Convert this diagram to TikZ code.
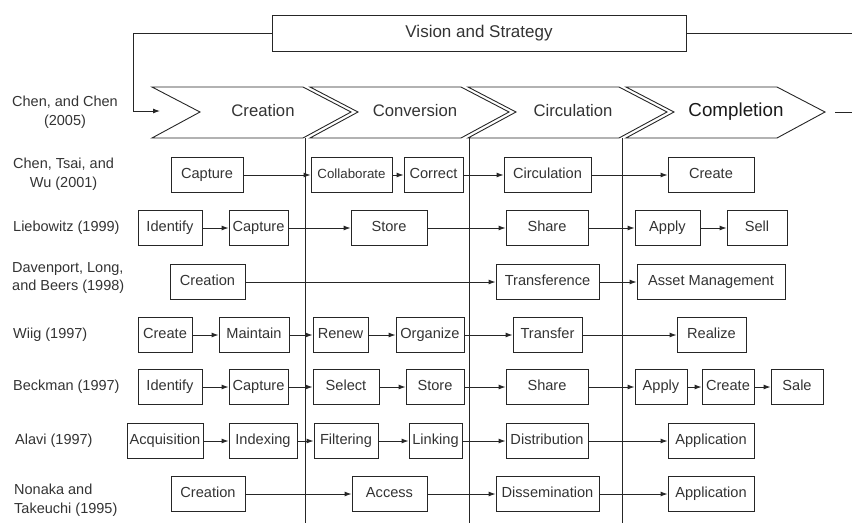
\documentclass[tikz,border=0pt]{standalone}
\usepackage{fontspec}
\setmainfont{Liberation Sans}
\usetikzlibrary{arrows.meta}

\tikzset{
  stage/.style={draw=black!85, line width=0.9pt, minimum height=35pt, inner sep=1pt, text height=10.5pt, text depth=3pt, text=black!80, font=\fontsize{14.6}{17}\selectfont},
  author/.style={anchor=west, inner sep=0pt, text=black!80, font=\fontsize{14.5}{18.5}\selectfont},
  phase/.style={text height=12pt, text depth=3.5pt, text=black!80, font=\fontsize{16.7}{20}\selectfont},
  rule/.style={draw=black!85, line width=0.9pt},
  flow/.style={rule, -{Latex[length=7pt,width=5pt]}},
}

\begin{document}
\begin{tikzpicture}[x=1pt,y=-1pt]
  \useasboundingbox (0,0) rectangle (852,523);

  % vision box and the loop into the chain
  \node[stage, minimum width=414pt, minimum height=36pt, text height=12pt, text depth=3.5pt, font=\fontsize{17}{20}\selectfont] (vision) at (479,33) {Vision and Strategy};
  \coordinate (entry) at (160,111);
  \coordinate (vout) at (852,33);
  \draw[flow] (vision.west) -| (133,111) -- (entry);
  \draw[rule] (vision.east) -- (vout);

  % the four phases
  \foreach \i in {0,...,3}
    \draw[rule] ({152+158*\i},87) -- ++(48,25) -- ++(-48,26) -- ++(151,0) -- ++(48,-26) -- ++(-48,-25) -- cycle;
  \node[phase] (creation) at (263,112) {Creation};
  \node[phase] (conversion) at (415,112) {Conversion};
  \node[phase] (circulation) at (573,112) {Circulation};
  \node[phase, text=black!90, text height=13.5pt, text depth=4pt, font=\fontsize{18.8}{22}\selectfont] (completion) at (736,112) {Completion};
  \coordinate (cout1) at (835,112);
  \coordinate (cout2) at (852,112);
  \draw[rule] (cout1) -- (cout2);

  % phase dividers
  \foreach \x in {305,469,622}
    \draw[rule] (\x,138) -- (\x,523);

  % authors
  \node[author, align=center] (chen) at (12,112) {Chen, and Chen\\(2005)};
  \node[author, align=center] (tsai) at (13,174) {Chen, Tsai, and\\Wu (2001)};
  \node[author] (lieb) at (13,228) {Liebowitz (1999)};
  \node[author, align=left] (dav) at (12,278) {Davenport, Long,\\and Beers (1998)};
  \node[author] (wiig) at (13,335) {Wiig (1997)};
  \node[author] (beck) at (13,387) {Beckman (1997)};
  \node[author] (alavi) at (15,441) {Alavi (1997)};
  \node[author, align=left] (nona) at (14,500) {Nonaka and\\Takeuchi (1995)};

  % Chen, Tsai, and Wu
  \node[stage, minimum width=72pt] (tsai1) at (207,175) {Capture};
  \node[stage, minimum width=81pt, font=\fontsize{13.3}{16}\selectfont] (tsai2) at (351.5,175) {Collaborate};
  \node[stage, minimum width=59pt] (tsai3) at (433.5,175) {Correct};
  \node[stage, minimum width=87pt] (tsai4) at (547.5,175) {Circulation};
  \node[stage, minimum width=86pt] (tsai5) at (711,175) {Create};

  % Liebowitz
  \node[stage, minimum width=64pt] (lieb1) at (170,228) {Identify};
  \node[stage, minimum width=59pt] (lieb2) at (258.5,228) {Capture};
  \node[stage, minimum width=76pt] (lieb3) at (389,228) {Store};
  \node[stage, minimum width=82pt] (lieb4) at (547,228) {Share};
  \node[stage, minimum width=65pt] (lieb5) at (667.5,228) {Apply};
  \node[stage, minimum width=60pt] (lieb6) at (757,228) {Sell};

  % Davenport, Long, and Beers
  \node[stage, minimum width=75pt] (dav1) at (207.5,282) {Creation};
  \node[stage, minimum width=103pt] (dav2) at (547.5,282) {Transference};
  \node[stage, minimum width=148pt] (dav3) at (711,282) {Asset Management};

  % Wiig
  \node[stage, minimum width=54pt] (wiig1) at (165,335) {Create};
  \node[stage, minimum width=70pt] (wiig2) at (254,335) {Maintain};
  \node[stage, minimum width=55pt] (wiig3) at (340.5,335) {Renew};
  \node[stage, minimum width=68pt] (wiig4) at (430,335) {Organize};
  \node[stage, minimum width=69pt] (wiig5) at (547.5,335) {Transfer};
  \node[stage, minimum width=69pt] (wiig6) at (711.5,335) {Realize};

  % Beckman
  \node[stage, minimum width=64pt] (beck1) at (170,387) {Identify};
  \node[stage, minimum width=59pt] (beck2) at (258.5,387) {Capture};
  \node[stage, minimum width=66pt] (beck3) at (346,387) {Select};
  \node[stage, minimum width=58pt] (beck4) at (435,387) {Store};
  \node[stage, minimum width=82pt] (beck5) at (547,387) {Share};
  \node[stage, minimum width=52pt] (beck6) at (661,387) {Apply};
  \node[stage, minimum width=52pt] (beck7) at (728,387) {Create};
  \node[stage, minimum width=52pt] (beck8) at (797,387) {Sale};

  % Alavi
  \node[stage, minimum width=76pt] (alavi1) at (165,441) {Acquisition};
  \node[stage, minimum width=68pt] (alavi2) at (263,441) {Indexing};
  \node[stage, minimum width=64pt] (alavi3) at (346,441) {Filtering};
  \node[stage, minimum width=53pt] (alavi4) at (435.5,441) {Linking};
  \node[stage, minimum width=82pt] (alavi5) at (547,441) {Distribution};
  \node[stage, minimum width=86pt] (alavi6) at (711,441) {Application};

  % Nonaka and Takeuchi
  \node[stage, minimum width=74pt] (nona1) at (208,494) {Creation};
  \node[stage, minimum width=75pt] (nona2) at (389.5,494) {Access};
  \node[stage, minimum width=103pt] (nona3) at (547.5,494) {Dissemination};
  \node[stage, minimum width=86pt] (nona4) at (711,494) {Application};

  % flows
  \foreach \a/\b in {tsai1/tsai2,tsai2/tsai3,tsai3/tsai4,tsai4/tsai5,
                     lieb1/lieb2,lieb2/lieb3,lieb3/lieb4,lieb4/lieb5,lieb5/lieb6,
                     dav1/dav2,dav2/dav3,
                     wiig1/wiig2,wiig2/wiig3,wiig3/wiig4,wiig4/wiig5,wiig5/wiig6,
                     beck1/beck2,beck2/beck3,beck3/beck4,beck4/beck5,beck5/beck6,beck6/beck7,beck7/beck8,
                     alavi1/alavi2,alavi2/alavi3,alavi3/alavi4,alavi4/alavi5,alavi5/alavi6,
                     nona1/nona2,nona2/nona3,nona3/nona4}
    \draw[flow] (\a) -- (\b);
\end{tikzpicture}
\end{document}
